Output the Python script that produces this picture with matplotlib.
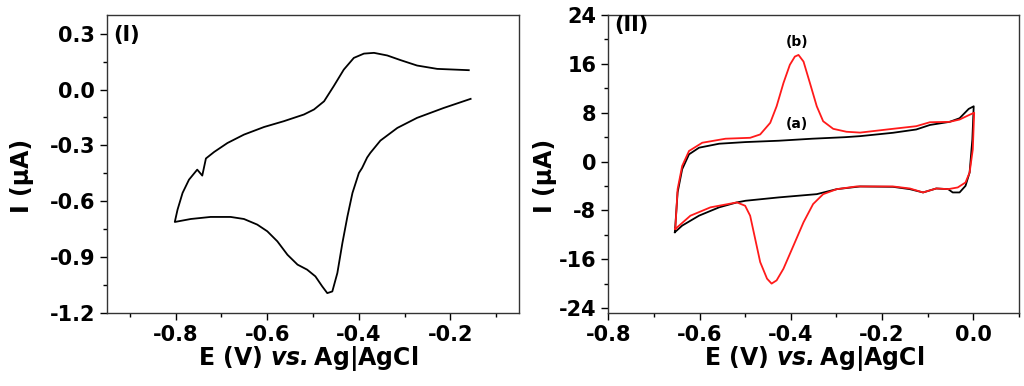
import matplotlib
matplotlib.use("Agg")
import matplotlib.pyplot as plt
from matplotlib.ticker import MultipleLocator

plt.rcParams['font.family'] = ['DejaVu Sans']
plt.rcParams['font.weight'] = 'bold'
plt.rcParams['axes.unicode_minus'] = False
plt.rcParams['mathtext.fontset'] = 'custom'
plt.rcParams['mathtext.rm'] = 'DejaVu Sans:bold'
plt.rcParams['mathtext.bf'] = 'DejaVu Sans:bold'
plt.rcParams['mathtext.bfit'] = 'DejaVu Sans:bold:italic'
plt.rcParams['mathtext.it'] = 'DejaVu Sans:bold:italic'

# Panel (I): single CV, sweep starts at the right end (lower branch first)
e1 = [-0.156, -0.215, -0.273, -0.316, -0.353, -0.375, -0.382, -0.393, -0.400, -0.414,
      -0.425, -0.436, -0.447, -0.458, -0.469, -0.480, -0.495, -0.513, -0.534, -0.556,
      -0.578, -0.600, -0.622, -0.651, -0.680, -0.724, -0.767, -0.802,
      -0.796, -0.785, -0.771, -0.753, -0.742, -0.734, -0.716, -0.687, -0.651, -0.607,
      -0.564, -0.520, -0.498, -0.476, -0.455, -0.433, -0.411, -0.389, -0.367, -0.338,
      -0.309, -0.273, -0.229, -0.160]
i1 = [-0.050, -0.099, -0.152, -0.206, -0.274, -0.340, -0.365, -0.421, -0.448, -0.555,
      -0.681, -0.824, -0.985, -1.084, -1.093, -1.057, -1.003, -0.967, -0.940, -0.887,
      -0.815, -0.761, -0.725, -0.695, -0.684, -0.684, -0.695, -0.711,
      -0.645, -0.555, -0.484, -0.430, -0.462, -0.370, -0.335, -0.287, -0.242, -0.201,
      -0.170, -0.134, -0.107, -0.063, 0.018, 0.107, 0.170, 0.193, 0.197, 0.183,
      0.158, 0.129, 0.111, 0.104]

# Panel (II): curve (a) black
ea = [-0.654, -0.648, -0.638, -0.623, -0.601, -0.557, -0.499, -0.426, -0.353, -0.281,
      -0.248, -0.176, -0.125, -0.095, -0.052, -0.030, -0.010, 0.001, -0.002, -0.008,
      -0.017, -0.030, -0.045, -0.055, -0.081, -0.110, -0.139, -0.176, -0.248, -0.299,
      -0.343, -0.426, -0.499, -0.518, -0.557, -0.601, -0.638, -0.654]
ia = [-11.56, -5.05, -1.25, 1.19, 2.28, 2.93, 3.20, 3.42, 3.75, 4.00,
      4.17, 4.72, 5.26, 6.00, 6.51, 7.10, 8.63, 9.06, 3.63, -1.79,
      -3.97, -5.05, -5.05, -4.51, -4.40, -5.05, -4.51, -4.13, -4.07, -4.51,
      -5.33, -5.86, -6.41, -6.68, -7.49, -8.85, -10.48, -11.56]

# Panel (II): curve (b) red
eb = [-0.653, -0.648, -0.638, -0.623, -0.594, -0.543, -0.489, -0.467, -0.445, -0.431,
      -0.416, -0.402, -0.391, -0.383, -0.372, -0.358, -0.343, -0.329, -0.307, -0.278,
      -0.248, -0.176, -0.125, -0.095, -0.052, -0.030, -0.010, 0.002, -0.001, -0.008,
      -0.017, -0.034, -0.055, -0.081, -0.110, -0.139, -0.176, -0.256, -0.299, -0.329,
      -0.351, -0.372, -0.394, -0.416, -0.431, -0.442, -0.452, -0.467, -0.478, -0.489,
      -0.500, -0.518, -0.576, -0.620, -0.653]
ib = [-11.03, -4.51, -0.71, 1.74, 3.09, 3.75, 3.90, 4.45, 6.35, 9.06,
      12.87, 15.85, 17.20, 17.47, 16.38, 12.87, 9.06, 6.61, 5.37, 4.89,
      4.75, 5.37, 5.80, 6.45, 6.51, 6.89, 7.60, 8.00, 2.00, -1.79,
      -3.42, -4.23, -4.51, -4.40, -5.05, -4.40, -4.07, -4.07, -4.51, -5.33,
      -6.95, -9.93, -13.75, -17.54, -19.45, -19.98, -19.17, -16.45, -12.65, -8.86,
      -7.23, -6.68, -7.49, -8.86, -11.03]

xlabel = "E (V) $\\mathbfit{vs.}$Ag|AgCl"
ylabel = "I (\u03bcA)"

fig = plt.figure(figsize=(10.24, 3.86), dpi=100)
ax1 = fig.add_axes([0.1045, 0.189, 0.4025, 0.772])
ax2 = fig.add_axes([0.594, 0.189, 0.401, 0.772])

ax1.plot(e1, i1, color='black', lw=1.3, solid_joinstyle='round')
ax1.set_xlim(-0.95, -0.05)
ax1.set_ylim(-1.2, 0.4)
ax1.set_xticks([-0.8, -0.6, -0.4, -0.2])
ax1.xaxis.set_minor_locator(MultipleLocator(0.1))
ax1.yaxis.set_major_locator(MultipleLocator(0.3))
ax1.yaxis.set_minor_locator(MultipleLocator(0.15))
ax1.text(0.015, 0.965, "(I)", transform=ax1.transAxes, fontsize=15,
         fontweight='bold', va='top', ha='left')

ax2.plot(ea, ia, color='black', lw=1.3, solid_joinstyle='round')
ax2.plot(eb, ib, color='#ff1a1a', lw=1.3, solid_joinstyle='round')
ax2.set_xlim(-0.8, 0.1)
ax2.set_ylim(-24.8, 24)
ax2.xaxis.set_major_locator(MultipleLocator(0.2))
ax2.xaxis.set_minor_locator(MultipleLocator(0.1))
ax2.yaxis.set_major_locator(MultipleLocator(8))
ax2.yaxis.set_minor_locator(MultipleLocator(4))
ax2.text(0.015, 1.0, "(II)", transform=ax2.transAxes, fontsize=15,
         fontweight='bold', va='top', ha='left')
ax2.text(-0.386, 19.6, "(b)", fontsize=10, fontweight='bold', ha='center', va='center')
ax2.text(-0.386, 6.1, "(a)", fontsize=10, fontweight='bold', ha='center', va='center')

for ax in (ax1, ax2):
    ax.set_xlabel(xlabel, fontsize=17, fontweight='bold')
    ax.set_ylabel(ylabel, fontsize=17, fontweight='bold')
    ax.tick_params(which='major', direction='out', length=5, width=1, labelsize=15)
    ax.tick_params(which='minor', direction='out', length=3, width=1)
    for lab in ax.get_xticklabels() + ax.get_yticklabels():
        lab.set_fontweight('bold')
    for sp in ax.spines.values():
        sp.set_linewidth(1.0)
        sp.set_color('#333333')

ax1.xaxis.set_label_coords(0.487, -0.104)
ax2.xaxis.set_label_coords(0.501, -0.104)
ax1.yaxis.set_label_coords(-0.177, 0.46)
ax2.yaxis.set_label_coords(-0.124, 0.46)

fig.savefig('out.png', dpi=100)
